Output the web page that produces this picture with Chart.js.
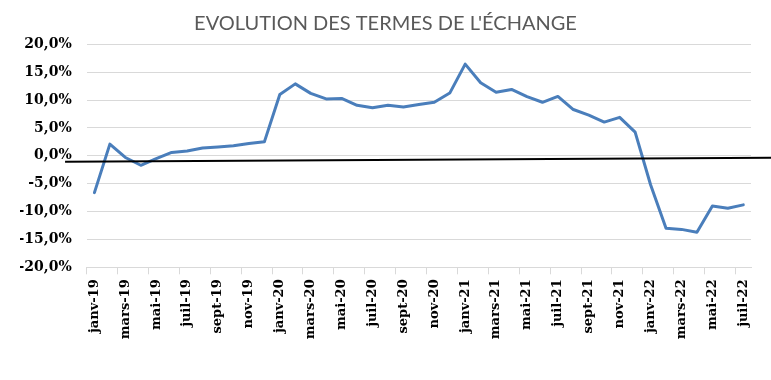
<!DOCTYPE html>
<html>
<head>
<meta charset="utf-8">
<script src="https://cdn.jsdelivr.net/npm/chart.js@4/dist/chart.umd.min.js"></script>
<style>
  html, body { margin: 0; padding: 0; background: #ffffff; }
  #wrap { width: 771px; height: 380px; position: relative; }
</style>
</head>
<body>
<div id="wrap"><canvas id="c" width="771" height="380"></canvas></div>
<script>
const titleText = "EVOLUTION DES TERMES DE L'ÉCHANGE";
const monthNames = ['janv','févr','mars','avr','mai','juin','juil','août','sept','oct','nov','déc'];
const years = ['19','20','21','22'];
const categories = [];
for (const y of years) for (const m of monthNames) categories.push(m + '-' + y);
categories.length = 43; // janv-19 .. juil-22

const termsOfTrade = [
  -6.6, 2.1, -0.3, -1.7, -0.5, 0.6, 0.85, 1.4, 1.6, 1.8, 2.2, 2.5,
  11.0, 12.9, 11.2, 10.2, 10.3, 9.05, 8.6, 9.05, 8.75, 9.2, 9.6, 11.25,
  16.45, 13.1, 11.4, 11.9, 10.6, 9.6, 10.65, 8.3, 7.3, 6.05, 6.9, 4.25,
  -5.2, -13.0, -13.2, -13.7, -9.0, -9.4, -8.8
];

const yTicks = { min: -20, max: 20, step: 5 };

// hand-drawn black reference line (category index units, percent)
const refLineX = [-1.9, 43.8];
const refLineY = [-1.06, -0.34];

const refLinePlugin = {
  id: 'refLine',
  afterDatasetsDraw(chart) {
    const xs = chart.scales.x, ys = chart.scales.y, ctx = chart.ctx;
    ctx.save();
    ctx.beginPath();
    ctx.moveTo(xs.getPixelForValue(refLineX[0]), ys.getPixelForValue(refLineY[0]));
    ctx.lineTo(xs.getPixelForValue(refLineX[1]), ys.getPixelForValue(refLineY[1]));
    ctx.strokeStyle = '#000000';
    ctx.lineWidth = 2;
    ctx.stroke();
    ctx.restore();
  }
};

new Chart(document.getElementById('c'), {
  type: 'line',
  data: {
    labels: categories,
    datasets: [{
      data: termsOfTrade,
      borderColor: '#4a7ebb',
      borderWidth: 3,
      pointRadius: 0,
      tension: 0,
      fill: false,
      borderJoinStyle: 'round',
      borderCapStyle: 'round'
    }]
  },
  options: {
    responsive: false,
    animation: false,
    layout: { padding: { left: 20, right: 20, top: 0, bottom: 0 } },
    plugins: {
      legend: { display: false },
      tooltip: { enabled: false },
      title: {
        display: true,
        text: titleText,
        color: '#595959',
        font: { family: 'Lato', size: 20, weight: 400 },
        padding: { top: 12, bottom: 8.3 }
      }
    },
    scales: {
      x: {
        offset: true,
        afterFit(s) { s.height = 112.7; },
        grid: {
          offset: true,
          drawOnChartArea: false,
          drawTicks: true,
          tickLength: 7,
          color: (c) => (c.index % 2 === 0 ? '#d9d9d9' : 'rgba(0,0,0,0)')
        },
        border: { display: true, color: '#d9d9d9', width: 1 },
        ticks: {
          autoSkip: false,
          maxRotation: 90,
          minRotation: 90,
          padding: 5,
          color: '#000000',
          font: { family: 'DejaVu Serif', size: 13, weight: 'bold' },
          callback: (v, i) => (i % 2 === 0 ? categories[i] : '')
        }
      },
      y: {
        min: yTicks.min,
        max: yTicks.max,
        afterFit(s) { s.width = 66.7; },
        grid: { color: '#d9d9d9', drawTicks: false, lineWidth: 1 },
        border: { display: false },
        ticks: {
          stepSize: yTicks.step,
          padding: 15,
          color: '#000000',
          font: { family: 'DejaVu Serif', size: 14, weight: 'bold' },
          callback: (v) => v.toFixed(1).replace('.', ',') + '%'
        }
      }
    }
  },
  plugins: [refLinePlugin]
});
</script>
</body>
</html>
